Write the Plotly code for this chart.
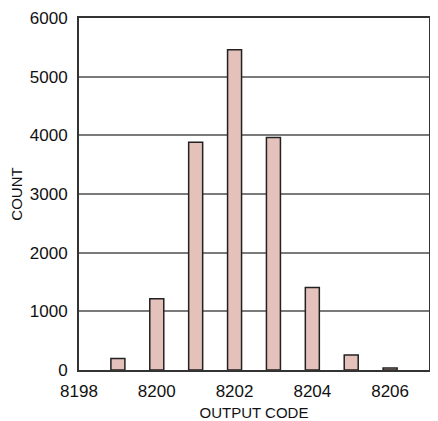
import plotly.graph_objects as go

codes = [8199, 8200, 8201, 8202, 8203, 8204, 8205, 8206]
counts = [195, 1215, 3880, 5460, 3965, 1405, 255, 35]

x_ticks = [8198, 8200, 8202, 8204, 8206]
y_ticks = [0, 1000, 2000, 3000, 4000, 5000, 6000]

FONT = "Liberation Sans, Arial, sans-serif"

fig = go.Figure()
fig.add_trace(go.Bar(
    x=codes, y=counts, width=0.36,
    marker=dict(color="#e4c1bb", line=dict(color="#222222", width=1.5)),
))

# page body has an 8px margin, so the figure is sized/offset accordingly
fig.update_layout(
    width=430, height=413,
    margin=dict(l=71, r=9, t=10, b=51, autoexpand=False),
    paper_bgcolor="white", plot_bgcolor="white",
    showlegend=False,
    font=dict(family=FONT, color="#111111"),
    xaxis=dict(
        range=[8198, 8207], tickvals=x_ticks, ticktext=[str(v) for v in x_ticks],
        showgrid=False, zeroline=False, automargin=False,
        showline=True, linecolor="#333333", linewidth=2, mirror=True,
        ticks="", ticklabelstandoff=5, tickfont=dict(size=17, family=FONT),
        title=dict(text="OUTPUT CODE", font=dict(size=15, family=FONT), standoff=16),
    ),
    yaxis=dict(
        range=[0, 6000], tickvals=y_ticks, automargin=False,
        showgrid=True, gridcolor="#7a7a7a", gridwidth=1.5, zeroline=False,
        showline=True, linecolor="#333333", linewidth=2, mirror=True,
        ticks="", ticklabelstandoff=6, tickfont=dict(size=17, family=FONT),
        title=dict(text="COUNT", font=dict(size=15, family=FONT), standoff=8),
    ),
)

fig.write_html("out.html")
